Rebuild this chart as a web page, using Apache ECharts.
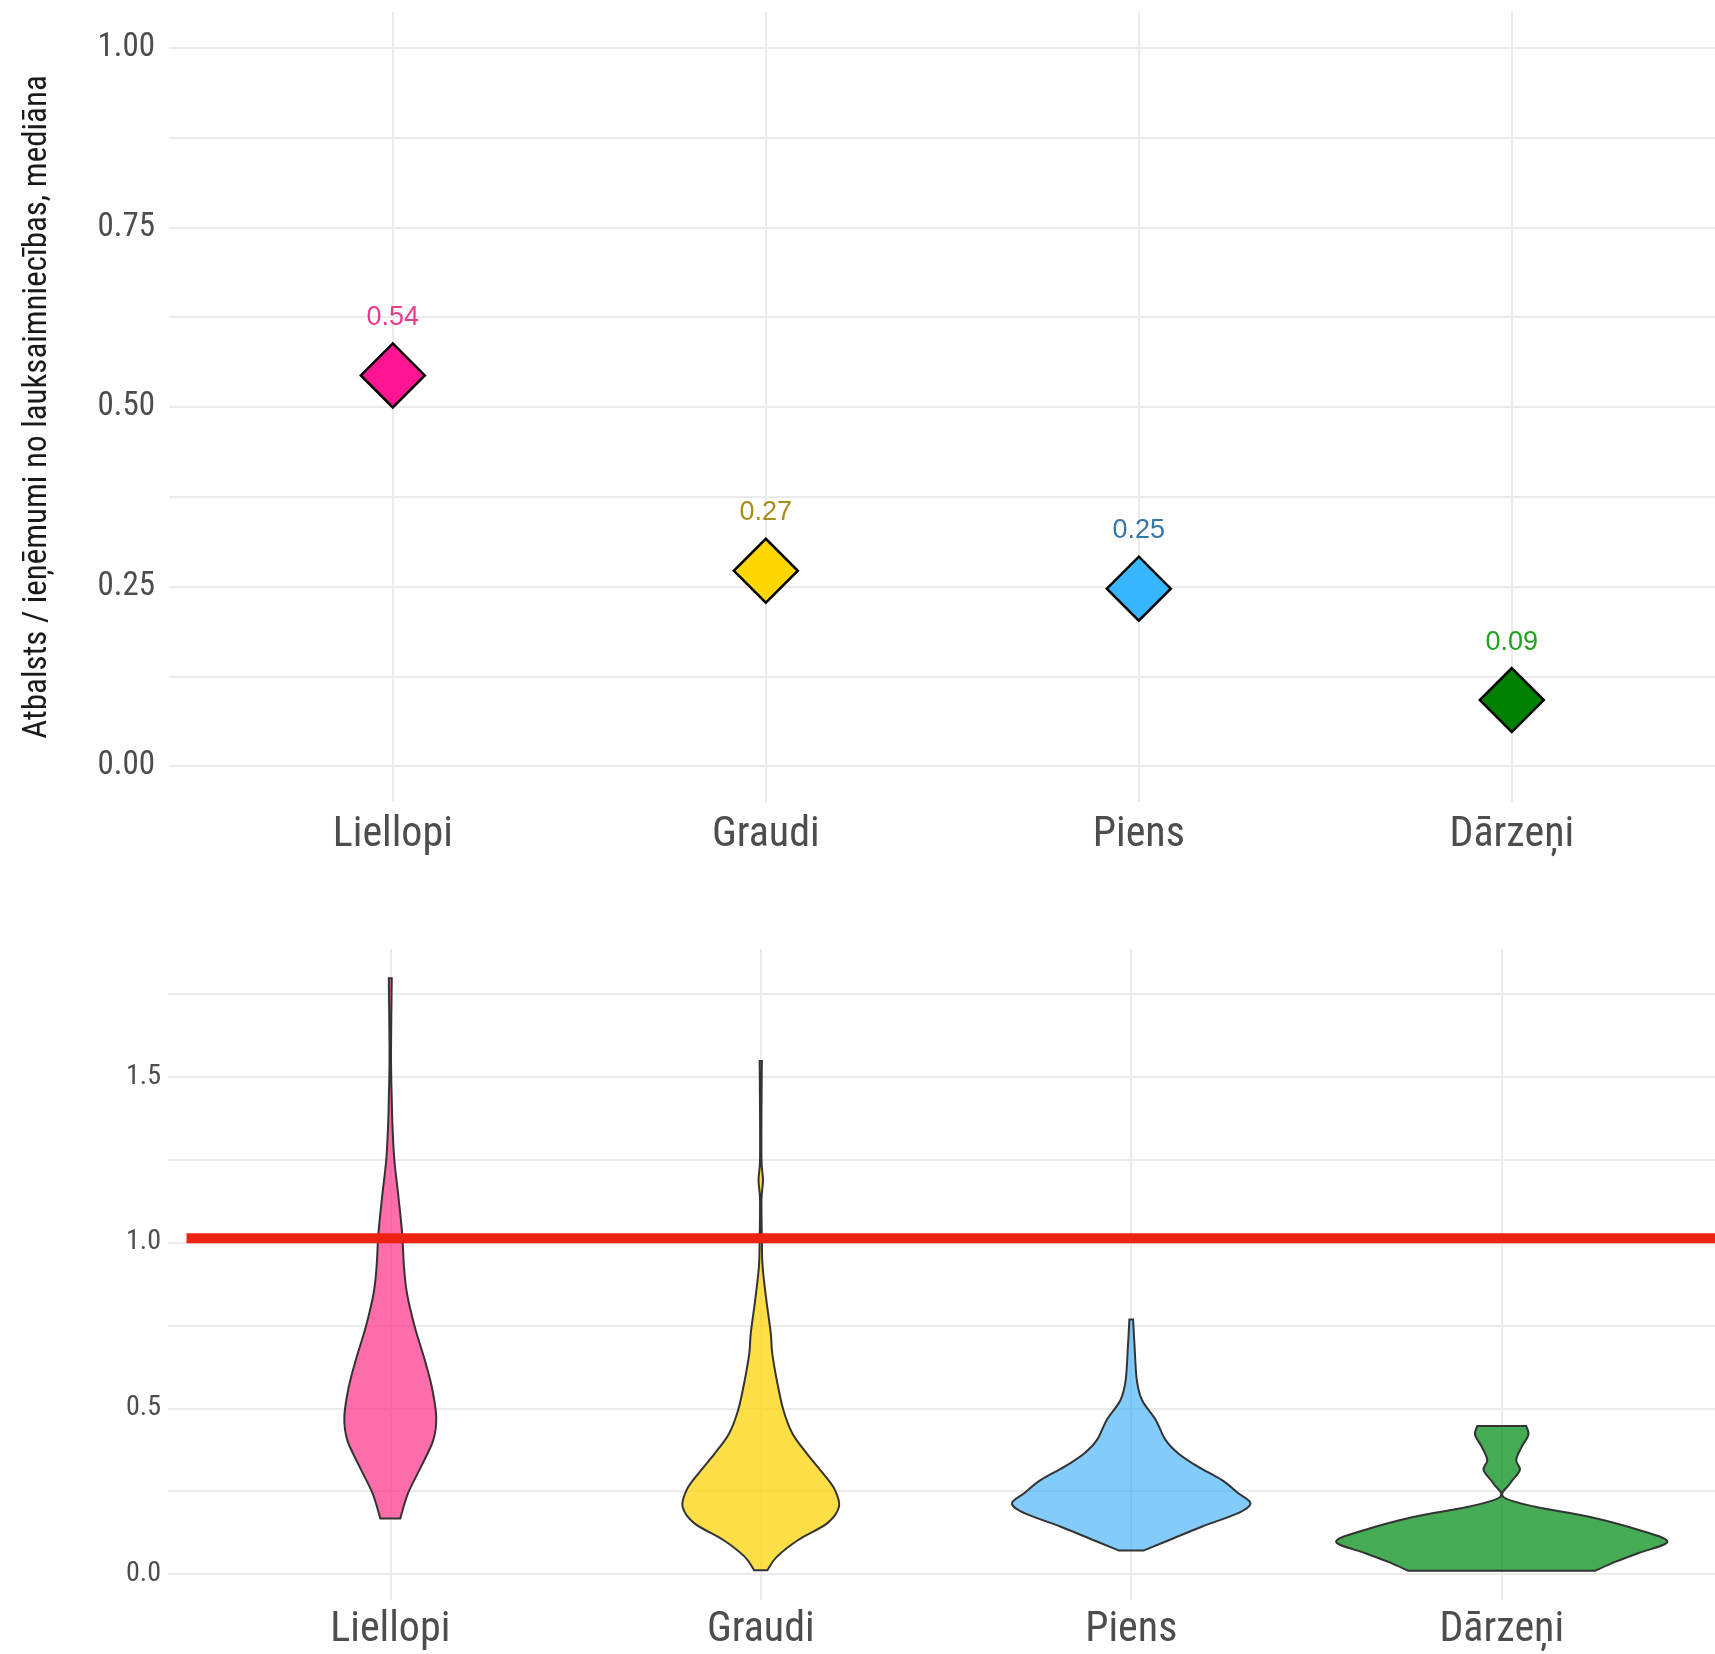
<!DOCTYPE html>
<html><head><meta charset="utf-8">
<script src="https://cdn.jsdelivr.net/npm/echarts@6/dist/echarts.min.js"></script>
<style>html,body{margin:0;padding:0;background:#fff}#c{width:1715px;height:1654px}</style>
</head><body><div id="c"></div>
<script>
// ---------- data ----------
const categories = ['Liellopi', 'Graudi', 'Piens', 'Dārzeņi'];
const medianValues = [0.544, 0.272, 0.247, 0.092];
const markerColors = ['#FF1493', '#FFD700', '#38B6FF', '#008000'];
const labelColors = ['#EA3C8C', '#A88C1C', '#3577A8', '#1FA31F'];
const violinFills = ['rgba(255,40,130,0.68)', 'rgba(255,210,0,0.72)', 'rgba(30,160,245,0.55)', 'rgba(0,140,20,0.73)'];

const topYGrid = [0, 0.125, 0.25, 0.375, 0.5, 0.625, 0.75, 0.875, 1];
const topYLabels = [0, 0.25, 0.5, 0.75, 1];
const bottomYGrid = [0, 0.25, 0.5, 0.75, 1, 1.25, 1.5, 1.75];
const bottomYLabels = [0, 0.5, 1, 1.5];
const categoryPositions = [0, 1, 2, 3];
const refLineValue = 1.013;

// violin outlines: [value, half-width in category units], top to bottom
const violinLiellopi = [[1.797,0.004],[1.70,0.003],[1.55,0.002],[1.43,0.004],[1.35,0.006],[1.248,0.011],[1.138,0.022],[1.028,0.032],[0.927,0.037],[0.847,0.045],[0.746,0.066],[0.646,0.093],[0.565,0.112],[0.475,0.124],[0.404,0.116],[0.324,0.083],[0.244,0.048],[0.168,0.027]];
const violinGraudi = [[1.547,0.003],[1.40,0.002],[1.248,0.002],[1.188,0.006],[1.13,0.002],[1.007,0.003],[0.927,0.005],[0.827,0.015],[0.726,0.027],[0.666,0.031],[0.575,0.045],[0.495,0.061],[0.425,0.085],[0.364,0.124],[0.304,0.168],[0.254,0.200],[0.203,0.211],[0.153,0.179],[0.103,0.101],[0.052,0.043],[0.012,0.018]];
const violinPiens = [[0.768,0.005],[0.686,0.009],[0.585,0.015],[0.525,0.029],[0.465,0.066],[0.404,0.093],[0.364,0.127],[0.324,0.180],[0.284,0.244],[0.244,0.289],[0.213,0.322],[0.183,0.287],[0.143,0.190],[0.103,0.103],[0.071,0.033]];
const violinDarzeni = [[0.447,0.066],[0.42,0.072],[0.384,0.054],[0.344,0.039],[0.314,0.049],[0.274,0.023],[0.233,0.004],[0.203,0.091],[0.173,0.236],[0.133,0.370],[0.098,0.447],[0.063,0.368],[0.037,0.306],[0.010,0.252]];
const violinProfiles = [violinLiellopi, violinGraudi, violinPiens, violinDarzeni];

// ---------- chart ----------
const narrow = "'Liberation Sans Narrow', 'Arial Narrow', 'Roboto Condensed', sans-serif";
const gridLine = { show: true, lineStyle: { color: '#EBEBEB', width: 2 } };

function xAxisFor(gridIndex, margin) {
  return {
    type: 'value', gridIndex, min: -0.6, max: 3.6,
    axisLine: { show: false },
    axisTick: { show: false, customValues: categoryPositions },
    axisLabel: {
      customValues: categoryPositions,
      formatter: v => categories[Math.round(v)],
      color: '#4D4D4D', fontFamily: narrow, fontSize: 42, margin
    },
    splitLine: gridLine
  };
}

// smooth curve through points (Catmull-Rom -> cubic Bezier), path continues from pts[0]
function curveThrough(pts) {
  let d = '';
  for (let i = 0; i < pts.length - 1; i++) {
    const p0 = pts[i - 1] || pts[i], p1 = pts[i], p2 = pts[i + 1], p3 = pts[i + 2] || pts[i + 1];
    const c1 = [p1[0] + (p2[0] - p0[0]) / 6, p1[1] + (p2[1] - p0[1]) / 6];
    const c2 = [p2[0] - (p3[0] - p1[0]) / 6, p2[1] - (p3[1] - p1[1]) / 6];
    d += ' C' + c1[0] + ',' + c1[1] + ' ' + c2[0] + ',' + c2[1] + ' ' + p2[0] + ',' + p2[1];
  }
  return d;
}

function renderViolin(params, api) {
  const i = params.dataIndex;
  const prof = violinProfiles[i];
  const right = prof.map(p => api.coord([i + p[1], p[0]]));
  const left = prof.slice().reverse().map(p => api.coord([i - p[1], p[0]]));
  const d = 'M' + right[0][0] + ',' + right[0][1] + curveThrough(right) +
            ' L' + left[0][0] + ',' + left[0][1] + curveThrough(left) + ' Z';
  return {
    type: 'path',
    shape: { pathData: d },
    style: { fill: violinFills[i], stroke: '#333333', lineWidth: 2 }
  };
}

const chart = echarts.init(document.getElementById('c'));
chart.setOption({
  animation: false,
  backgroundColor: '#ffffff',
  grid: [
    { left: 169, width: 1566.6, top: 12, height: 790, outerBoundsMode: 'none', containLabel: false },
    { left: 168, width: 1556, top: 949, height: 651, outerBoundsMode: 'none', containLabel: false }
  ],
  xAxis: [xAxisFor(0, 12), xAxisFor(1, 9)],
  yAxis: [
    {
      type: 'value', gridIndex: 0, min: -0.05, max: 1.05,
      name: 'Atbalsts / ieņēmumi no lauksaimniecības, mediāna',
      nameLocation: 'middle', nameGap: 115, nameRotate: 90,
      nameTextStyle: { color: '#1A1A1A', fontFamily: narrow, fontSize: 33 },
      axisLine: { show: false },
      axisTick: { show: false, customValues: topYGrid },
      axisLabel: { customValues: topYLabels, formatter: v => v.toFixed(2), color: '#4D4D4D', fontFamily: narrow, fontSize: 33, margin: 14 },
      splitLine: gridLine
    },
    {
      type: 'value', gridIndex: 1, min: -0.078, max: 1.885,
      axisLine: { show: false },
      axisTick: { show: false, customValues: bottomYGrid },
      axisLabel: { customValues: bottomYLabels, formatter: v => v.toFixed(1), color: '#4D4D4D', fontFamily: narrow, fontSize: 28, margin: 7 },
      splitLine: gridLine
    }
  ],
  series: [
    {
      type: 'scatter', xAxisIndex: 0, yAxisIndex: 0,
      symbol: 'diamond', symbolSize: 64,
      data: medianValues.map((v, i) => ({
        value: [i, v],
        itemStyle: { color: markerColors[i], borderColor: '#000', borderWidth: 2.5, opacity: 1 },
        label: { color: labelColors[i] }
      })),
      label: {
        show: true, position: 'top', distance: 11,
        formatter: p => p.value[1].toFixed(2),
        fontFamily: "'Liberation Sans', Arial, sans-serif", fontSize: 27
      }
    },
    {
      type: 'custom', xAxisIndex: 1, yAxisIndex: 1,
      renderItem: renderViolin,
      encode: { x: 0, y: 1 },
      data: categories.map((c, i) => [i, 0])
    },
    {
      type: 'line', xAxisIndex: 1, yAxisIndex: 1,
      symbol: 'none', z: 5,
      lineStyle: { color: '#EE2212', width: 10 },
      data: [[-0.55, refLineValue], [3.6, refLineValue]]
    }
  ]
});
</script>
</body></html>
